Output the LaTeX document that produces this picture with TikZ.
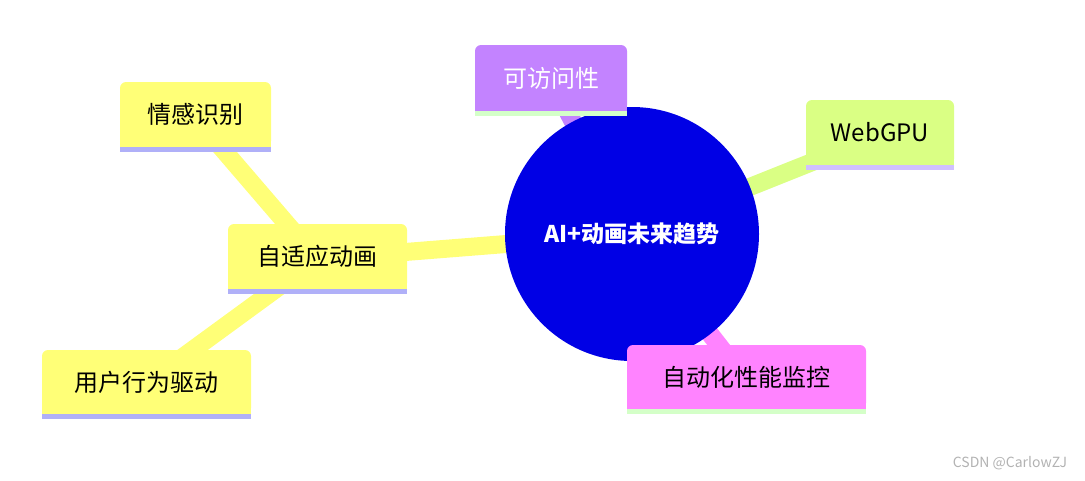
\documentclass[tikz,border=0pt]{standalone}
\usepackage{fontspec}
\setmainfont{Noto Sans CJK SC}
\begin{document}
\begin{tikzpicture}[x=1pt,y=-1pt,
  box/.style={rounded corners=6pt,inner sep=0pt,font=\fontsize{24}{28}\selectfont},
  link/.style={line width=18pt}]
\useasboundingbox (0,0) rectangle (1085,480);
\definecolor{cpur}{HTML}{C383FF}
\definecolor{cgrn}{HTML}{DAFF84}
\definecolor{cpink}{HTML}{FF83FF}
\definecolor{cyel}{HTML}{FFFF77}
\definecolor{sgrn}{HTML}{D4FFC8}
\definecolor{slav}{HTML}{D0C0FF}
\definecolor{sblue}{HTML}{B0B0F8}
\coordinate (c) at (632,234);
\coordinate (pa) at (551,80);
\coordinate (pb) at (880,135);
\coordinate (pc) at (746,380);
\coordinate (pd) at (317,259);
\coordinate (pe) at (195,117);
\coordinate (pf) at (146,384);
\draw[link,cpur] (c) -- (pa);
\draw[link,cgrn] (c) -- (pb);
\draw[link,cpink] (c) -- (pc);
\draw[link,cyel] (c) -- (pd);
\draw[link,cyel] (pd) -- (pe);
\draw[link,cyel] (pd) -- (pf);
\node[circle,fill=blue!90!black,draw=none,minimum size=254pt,text=white,font=\fontsize{23}{28}\selectfont\bfseries] (root) at (c) {AI+动画未来趋势};
% boxes: name, coord, w, h, fill, stripe, text colour, label
\foreach \n/\cx/\cy/\w/\h/\f/\s/\t/\txt in {
  a/551/78/152/66/cpur/sgrn/white/可访问性,
  b/880/132.5/148/65/cgrn/slav/black/WebGPU,
  c2/746.5/377/239/64/cpink/sgrn/black/自动化性能监控,
  d/317.5/256.5/179/65/cyel/sblue/black/自适应动画,
  e/195.5/114.5/151/65/cyel/sblue/black/情感识别,
  f/146.5/382/209/64/cyel/sblue/black/用户行为驱动}{
  \node[box,fill=\f,text=\t,minimum width=\w pt,minimum height=\h pt] (\n) at (\cx,\cy) {\txt};
  \fill[\f] (\n.south west) rectangle ([yshift=8pt]\n.south east);
  \fill[\s] (\n.south west) rectangle ([yshift=-5pt]\n.south east);
}
\node[text=gray!60,font=\fontsize{14}{16}\selectfont] (wm) at (1010,463) {CSDN @CarlowZJ};
\end{tikzpicture}
\end{document}
